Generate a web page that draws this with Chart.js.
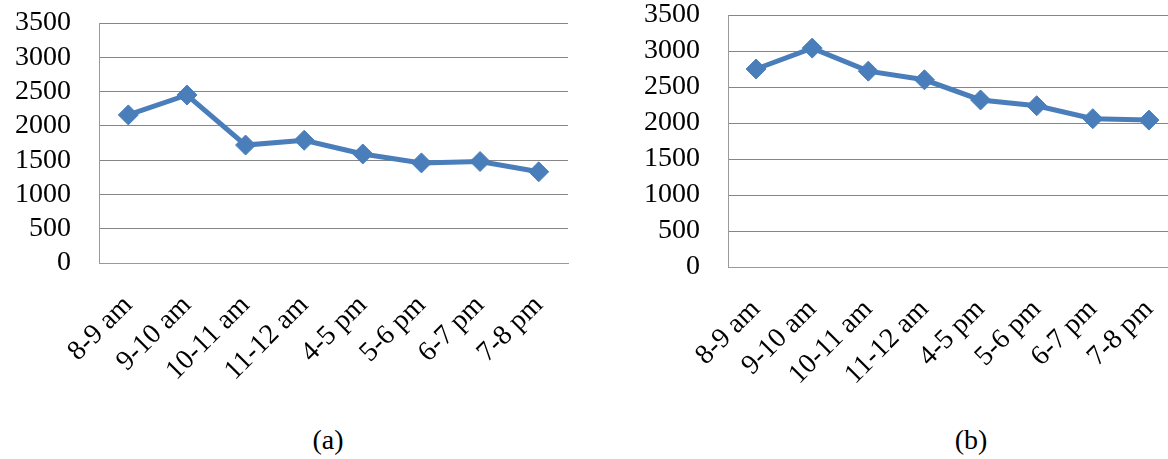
<!DOCTYPE html>
<html>
<head>
<meta charset="utf-8">
<script src="https://cdn.jsdelivr.net/npm/chart.js@4"></script>
<style>
  html, body { margin: 0; padding: 0; background: #fff; overflow: hidden; }
  body { width: 1168px; height: 459px; position: relative; }
  .box { position: absolute; }
  .cap { position: absolute; font-family: "Liberation Serif", serif; font-size: 28px; color: #000; transform: translateX(-50%); }
</style>
</head>
<body>
<div class="box" style="left:0;top:0"><canvas id="chartA" width="579" height="420"></canvas></div>
<div class="box" style="left:620px;top:0"><canvas id="chartB" width="568" height="420"></canvas></div>
<div class="cap" style="left:328px;top:424px">(a)</div>
<div class="cap" style="left:971px;top:424px">(b)</div>
<script>
const hours = ["8-9 am", "9-10 am", "10-11 am", "11-12 am", "4-5 pm", "5-6 pm", "6-7 pm", "7-8 pm"];
const valuesA = [2160, 2450, 1720, 1790, 1590, 1460, 1480, 1330];
const valuesB = [2750, 3040, 2720, 2600, 2320, 2240, 2060, 2040];
const yTicks = [0, 500, 1000, 1500, 2000, 2500, 3000, 3500];

const blue = "#4a7ebb";
const serif = "'Liberation Serif', 'Times New Roman', serif";
const clear = 'rgba(0,0,0,0)';

// build one excel-looking line chart
// (label gaps come from invisible tick marks so they don't push the plot area)
function makeChart(id, values, yWidth, pad) {
  const ctx = document.getElementById(id).getContext('2d');
  return new Chart(ctx, {
    type: 'line',
    data: {
      labels: hours,
      datasets: [{
        data: values,
        borderColor: blue,
        backgroundColor: blue,
        borderWidth: 5,
        pointStyle: 'rectRot',
        pointRadius: 10,
        pointBorderWidth: 1,
        pointBorderColor: blue,
        pointBackgroundColor: blue,
        tension: 0
      }]
    },
    options: {
      responsive: false,
      animation: false,
      layout: { padding: pad },
      plugins: {
        legend: { display: false },
        tooltip: { enabled: false }
      },
      scales: {
        x: {
          offset: true,
          grid: { display: true, drawOnChartArea: false, color: clear, drawTicks: true, tickLength: 26, tickColor: clear },
          border: { display: true, color: '#999999', width: 1 },
          ticks: {
            autoSkip: false,
            minRotation: 45,
            maxRotation: 45,
            padding: 0,
            color: '#000',
            font: { family: serif, size: 28 }
          },
          afterFit: (s) => { s.height = 420 - pad.top - pad.bottom - pad.plotH; }
        },
        y: {
          min: 0,
          max: 3500,
          afterBuildTicks: (s) => { s.ticks = yTicks.map(v => ({ value: v })); },
          grid: { color: '#868686', lineWidth: 1, drawTicks: true, tickLength: 28, tickColor: clear },
          border: { display: true, color: '#999999', width: 1 },
          ticks: {
            autoSkip: false,
            padding: 0,
            color: '#000',
            font: { family: serif, size: 28, lineHeight: 1 },
            callback: (v) => String(v)
          },
          afterFit: (s) => { s.width = yWidth; }
        }
      }
    }
  });
}

makeChart('chartA', valuesA, 99, { top: 23, right: 4, bottom: 0, left: 0, plotH: 240 });
makeChart('chartB', valuesB, 108, { top: 15, right: 4, bottom: 0, left: 0, plotH: 252 });
</script>
</body>
</html>
